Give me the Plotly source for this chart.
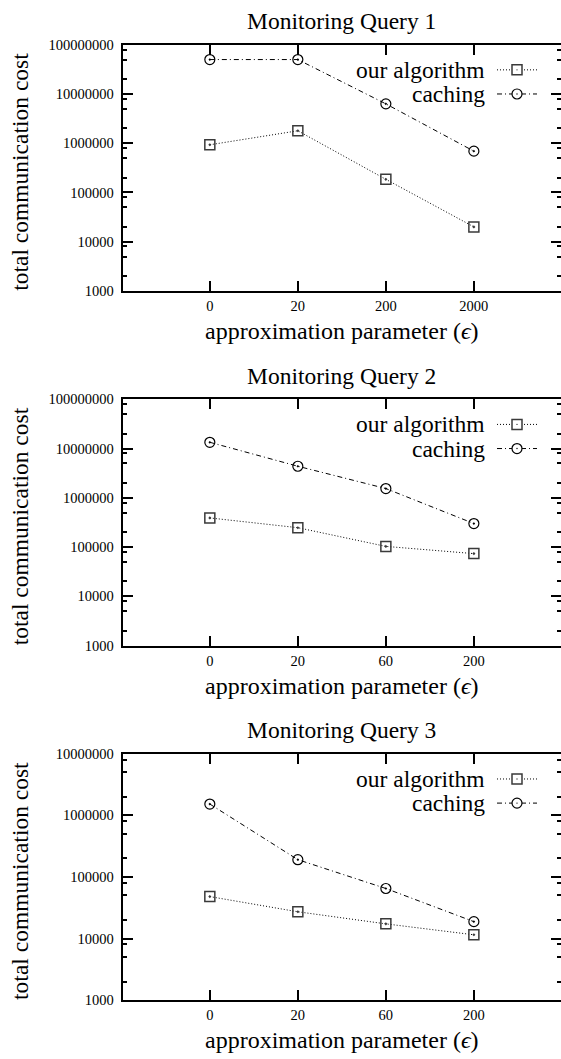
import plotly.graph_objects as go

W, H = 561, 1059

# ---------------- data ----------------
titles = ["Monitoring Query 1", "Monitoring Query 2", "Monitoring Query 3"]
eps_q1 = ["0", "20", "200", "2000"]
eps_q2 = ["0", "20", "60", "200"]
eps_q3 = ["0", "20", "60", "200"]
ours_q1 = [930000, 1790000, 185000, 20000]
caching_q1 = [50000000, 50000000, 6300000, 690000]
ours_q2 = [390000, 247000, 103000, 73500]
caching_q2 = [13400000, 4370000, 1540000, 300000]
ours_q3 = [48000, 27200, 17300, 11500]
caching_q3 = [1530000, 191000, 65000, 18800]
yticks_q1 = [1000, 10000, 100000, 1000000, 10000000, 100000000]
yticks_q2 = [1000, 10000, 100000, 1000000, 10000000, 100000000]
yticks_q3 = [1000, 10000, 100000, 1000000, 10000000]
minor_digits = [2, 5, 8]
series_names = ["our algorithm", "caching"]
x_title = "approximation parameter (<i>ϵ</i>)"
y_title = "total communication cost"

panels = [
    (titles[0], eps_q1, ours_q1, caching_q1, yticks_q1),
    (titles[1], eps_q2, ours_q2, caching_q2, yticks_q2),
    (titles[2], eps_q3, ours_q3, caching_q3, yticks_q3),
]

# ---------------- style / geometry ----------------
FONT = "Liberation Serif, Times New Roman, serif"
BIG = 23.5
SMALL = 14.5
LEFT = 122.7
TOPS = [37.3, 397.3, 757.3]
PH = 250.0
DASH_OURS = "1px,2px"
DASH_CACHE = "5px,3px,1px,3px"
SQ_COLOR = "#3a3a3a"


def px(x):
    return x / W


def py(y):
    return 1 - y / H


fig = go.Figure()
annotations = []
shapes = []

for i, (title, eps, ours, cache, yt) in enumerate(panels):
    n = i + 1
    xs = "x" if n == 1 else f"x{n}"
    ys = "y" if n == 1 else f"y{n}"
    yr = f"y{n + 3}"
    top = TOPS[i]
    bot = top + PH
    lo, hi = len(str(yt[0])) - 1, len(str(yt[-1])) - 1
    minors = [d * 10 ** e for e in range(lo, hi) for d in minor_digits]

    fig.add_trace(go.Scatter(
        x=eps, y=ours, xaxis=xs, yaxis=ys, mode="lines+markers",
        line=dict(color="black", width=1, dash=DASH_OURS),
        marker=dict(symbol="square-open-dot", size=10, color=SQ_COLOR,
                    line=dict(width=1.5, color=SQ_COLOR)),
        showlegend=False, hoverinfo="skip", cliponaxis=False))
    fig.add_trace(go.Scatter(
        x=eps, y=cache, xaxis=xs, yaxis=ys, mode="lines+markers",
        line=dict(color="black", width=1, dash=DASH_CACHE),
        marker=dict(symbol="circle-open-dot", size=10, color="black",
                    line=dict(width=1.2, color="black")),
        showlegend=False, hoverinfo="skip", cliponaxis=False))
    # invisible trace to carry the right-hand tick axis
    fig.add_trace(go.Scatter(
        x=eps, y=ours, xaxis=xs, yaxis=yr, mode="markers",
        marker=dict(opacity=0), showlegend=False, hoverinfo="skip"))

    dom_y = [py(bot), py(top)]
    xkey = "xaxis" if n == 1 else f"xaxis{n}"
    ykey = "yaxis" if n == 1 else f"yaxis{n}"
    fig.layout[xkey] = dict(
        domain=[px(LEFT), 1], anchor=ys, type="category",
        categoryorder="array", categoryarray=eps, range=[-0.99, 3.99],
        ticks="inside", ticklen=10, tickwidth=1.5, tickcolor="black",
        showline=True, linewidth=2, linecolor="black", mirror="ticks",
        showgrid=False, zeroline=False,
        tickfont=dict(family=FONT, size=SMALL, color="black"),
        ticklabelstandoff=1)
    common_y = dict(
        type="log", range=[lo, hi], tickvals=yt,
        ticks="inside", ticklen=10, tickwidth=1.5, tickcolor="black",
        showgrid=False, zeroline=False,
        minor=dict(tickvals=minors, ticks="inside", ticklen=4,
                   tickwidth=1.5, tickcolor="black", showgrid=False))
    fig.layout[ykey] = dict(
        domain=dom_y, anchor=xs, showline=True, linewidth=2,
        linecolor="black", ticktext=[str(v) for v in yt],
        tickfont=dict(family=FONT, size=SMALL, color="black"),
        ticklabelstandoff=4, **common_y)
    fig.layout[f"yaxis{n + 3}"] = dict(
        overlaying=ys, anchor=xs, side="right", showline=False,
        showticklabels=False, **common_y)

    # title and axis titles
    annotations.append(dict(
        text=title, x=(px(LEFT) + 1) / 2, y=py(top - 24), xref="paper",
        yref="paper", showarrow=False, xanchor="center", yanchor="middle",
        font=dict(family=FONT, size=BIG, color="black")))
    annotations.append(dict(
        text=x_title, x=(px(LEFT) + 1) / 2, y=py(bot + 41), xref="paper",
        yref="paper", showarrow=False, xanchor="center", yanchor="middle",
        font=dict(family=FONT, size=24, color="black")))
    annotations.append(dict(
        text=y_title, x=px(20), y=py((top + bot) / 2 + 4), xref="paper",
        yref="paper", showarrow=False, xanchor="center", yanchor="middle",
        textangle=-90, font=dict(family=FONT, size=BIG, color="black")))

    # gnuplot-style key: text right-aligned, sample on the right
    for k, (name, dash) in enumerate(zip(series_names, [DASH_OURS, DASH_CACHE])):
        yrow = top + 25.5 + k * 24.5
        annotations.append(dict(
            text=name, x=px(487), y=py(yrow), xref="paper", yref="paper",
            showarrow=False, xanchor="right", yanchor="middle",
            font=dict(family=FONT, size=BIG, color="black")))
        shapes.append(dict(
            type="line", xref="paper", yref="paper", x0=px(497), x1=px(537),
            y0=py(yrow), y1=py(yrow), line=dict(color="black", width=1, dash=dash)))
        col = SQ_COLOR if k == 0 else "black"
        shapes.append(dict(
            type="rect" if k == 0 else "circle", xref="paper", yref="paper",
            xsizemode="pixel", ysizemode="pixel", xanchor=px(517),
            yanchor=py(yrow), x0=-5, x1=5, y0=-5, y1=5, fillcolor="white",
            line=dict(color=col, width=1.5 if k == 0 else 1.2)))
        shapes.append(dict(
            type="circle", xref="paper", yref="paper",
            xsizemode="pixel", ysizemode="pixel", xanchor=px(517),
            yanchor=py(yrow), x0=-0.7, x1=0.7, y0=-0.7, y1=0.7,
            fillcolor=col, line=dict(color=col, width=0)))

fig.update_layout(
    width=W, height=H, margin=dict(l=0, r=0, t=0, b=0),
    paper_bgcolor="white", plot_bgcolor="white",
    annotations=annotations, shapes=shapes, showlegend=False,
    font=dict(family=FONT, color="black"))

fig.write_html("out.html", config={"displayModeBar": False},
               post_script="document.body.style.margin='0px';"
                           "document.body.style.padding='0px';"
                           "document.body.style.overflow='hidden';")
